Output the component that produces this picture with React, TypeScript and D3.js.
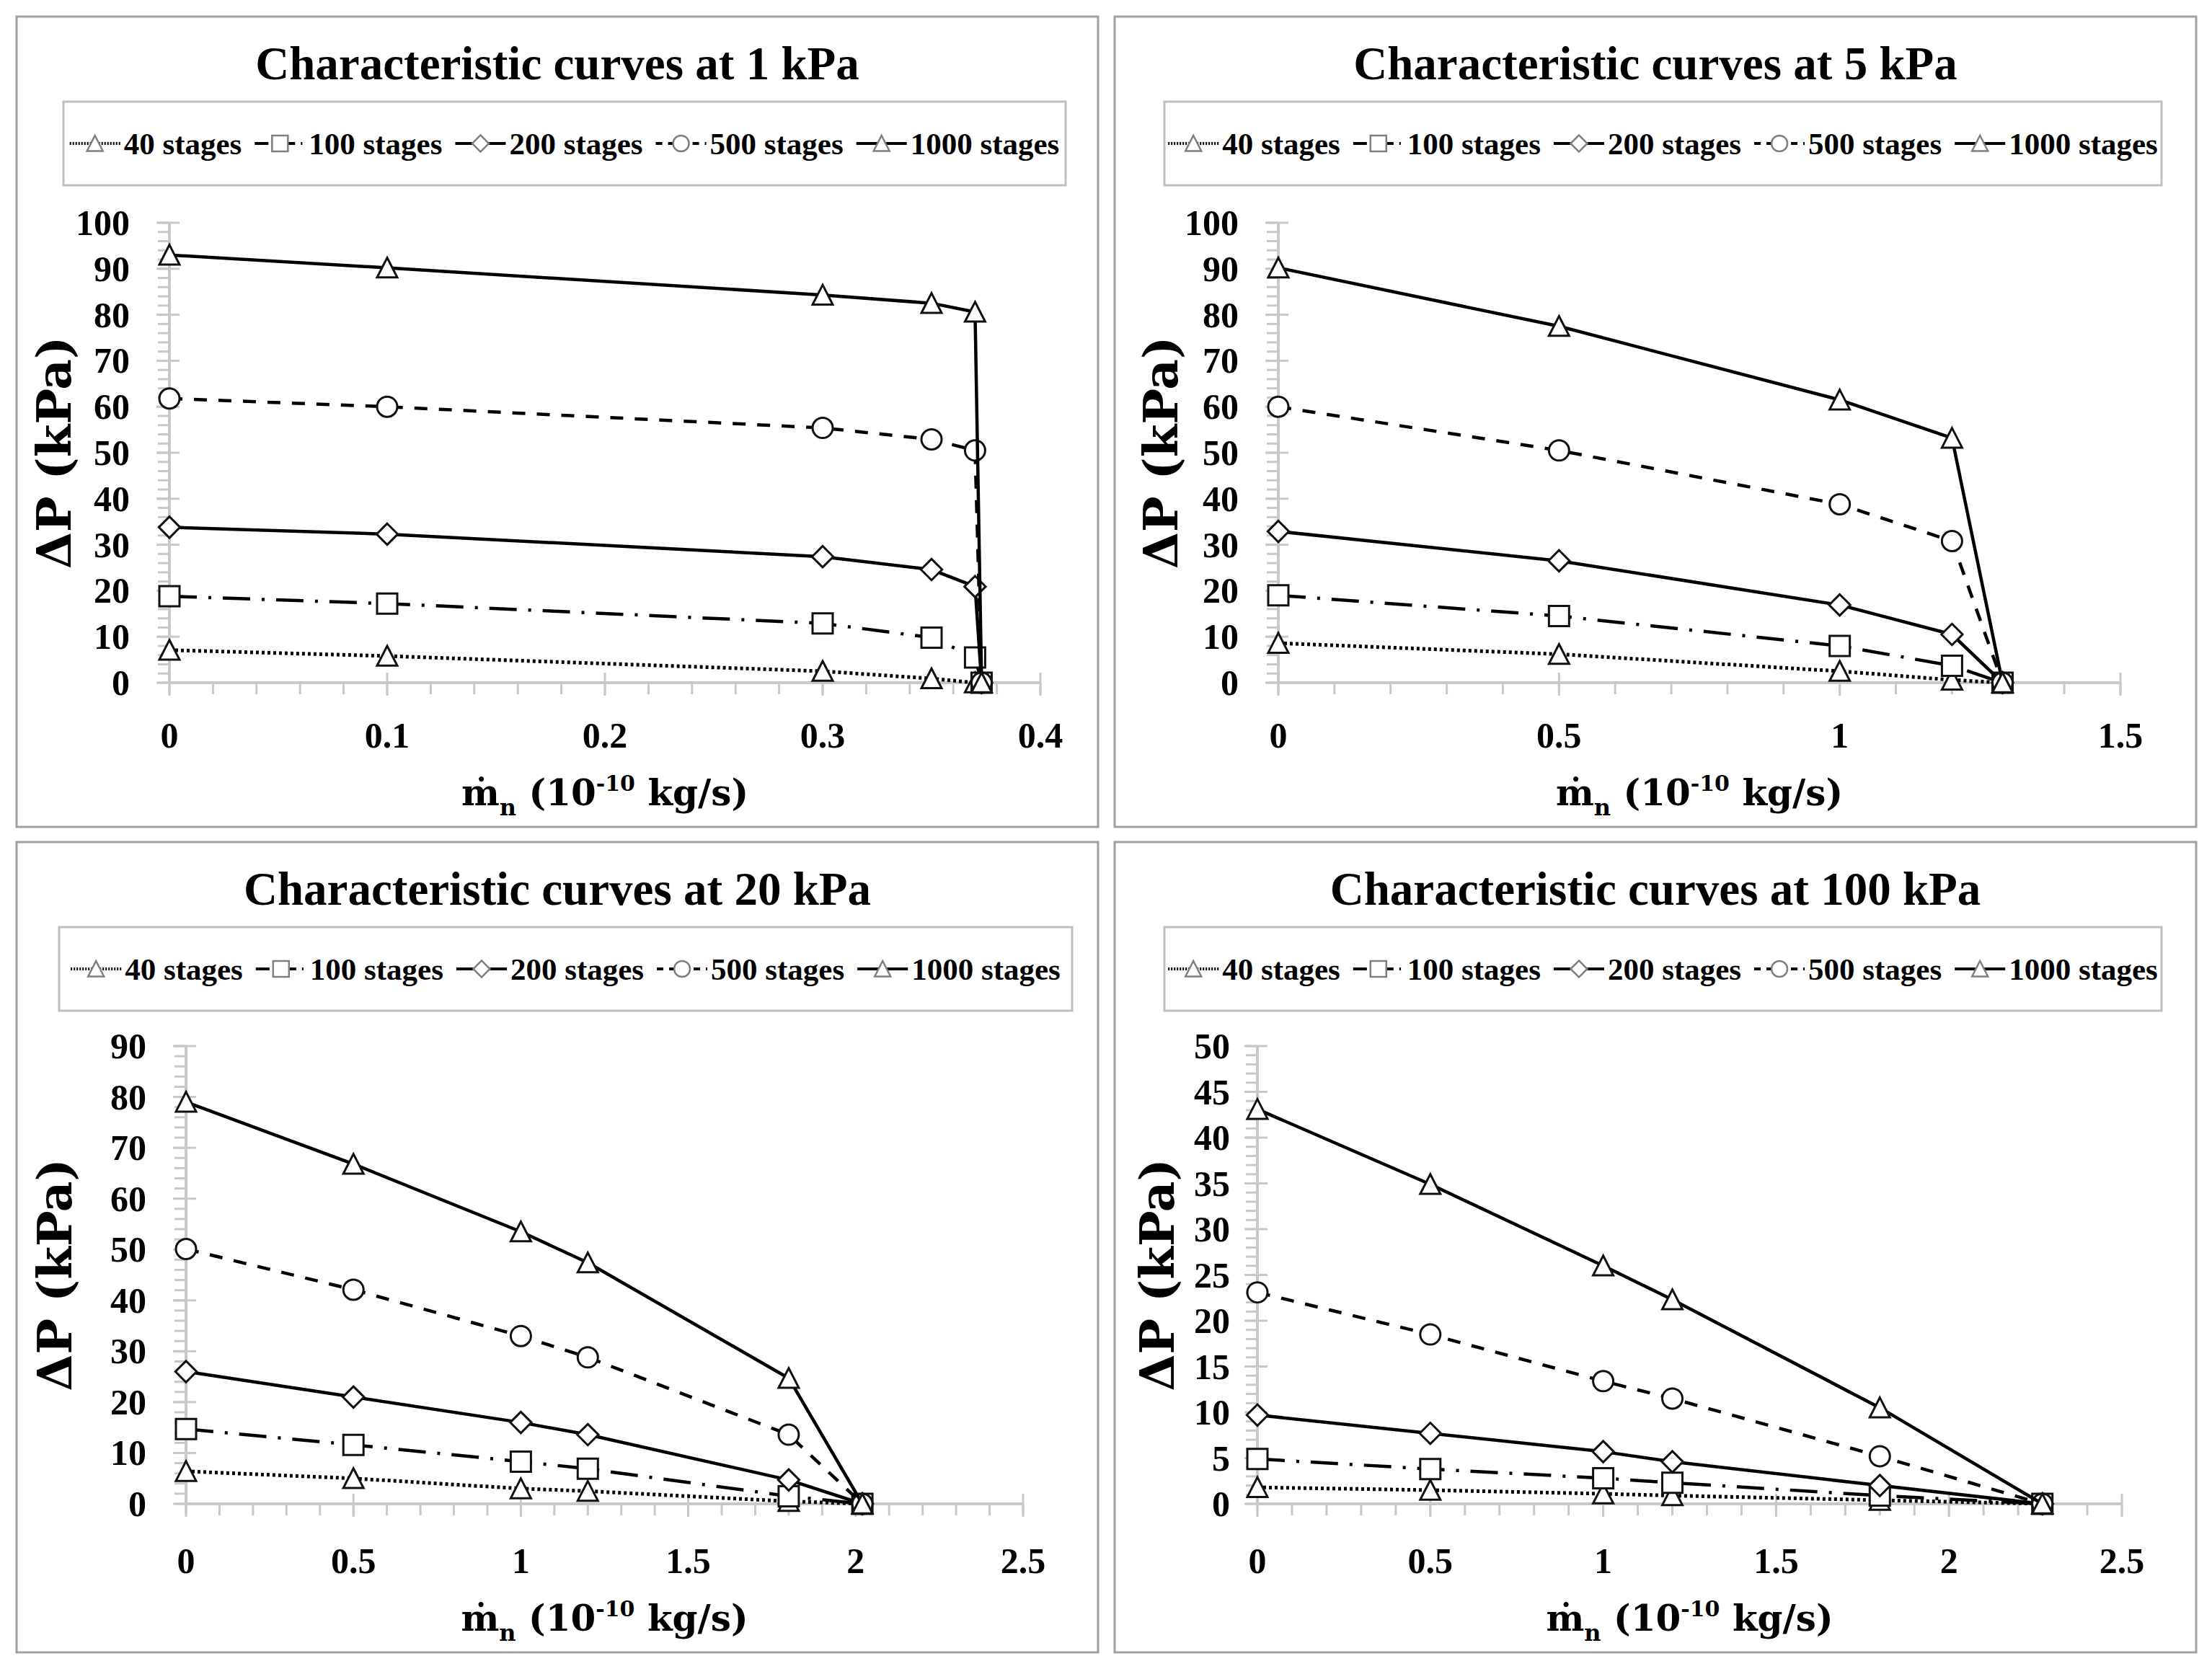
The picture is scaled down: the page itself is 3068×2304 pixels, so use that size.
import * as d3 from "d3";
import { useEffect, useRef } from "react";

const W = 3068;
const H = 2304;

const STAGES = ["40 stages", "100 stages", "200 stages", "500 stages", "1000 stages"];
const TITLES = [
  "Characteristic curves at 1 kPa",
  "Characteristic curves at 5 kPa",
  "Characteristic curves at 20 kPa",
  "Characteristic curves at 100 kPa",
];

// 1 kPa
const KPA1_X = [0, 0.1, 0.3, 0.35, 0.37, 0.373];
const KPA1_S40 = [7.1, 5.8, 2.5, 0.9, 0, 0];
const KPA1_S100 = [18.8, 17.2, 12.9, 9.8, 5.5, 0];
const KPA1_S200 = [33.8, 32.3, 27.4, 24.6, 20.9, 0];
const KPA1_S500 = [61.8, 60, 55.4, 52.9, 50.5, 0];
const KPA1_S1000 = [93, 90.2, 84.3, 82.5, 80.6, 0];

// 5 kPa
const KPA5_X = [0, 0.5, 1, 1.2, 1.29];
const KPA5_S40 = [8.6, 6.2, 2.5, 0.6, 0];
const KPA5_S100 = [19, 14.5, 8, 3.7, 0];
const KPA5_S200 = [32.9, 26.5, 16.9, 10.5, 0];
const KPA5_S500 = [60, 50.5, 38.8, 30.8, 0];
const KPA5_S1000 = [90.2, 77.5, 61.5, 53.2, 0];

// 20 kPa
const KPA20_X = [0, 0.5, 1, 1.2, 1.8, 2.02];
const KPA20_S40 = [6.4, 5, 3, 2.5, 0.5, 0];
const KPA20_S100 = [14.7, 11.6, 8.3, 6.9, 1.5, 0];
const KPA20_S200 = [26, 21, 16, 13.6, 4.7, 0];
const KPA20_S500 = [50.1, 42.1, 33, 28.8, 13.6, 0];
const KPA20_S1000 = [79, 66.8, 53.5, 47.4, 24.7, 0];

// 100 kPa
const KPA100_X = [0, 0.5, 1, 1.2, 1.8, 2.27];
const KPA100_S40 = [1.8, 1.5, 1.1, 0.9, 0.4, 0];
const KPA100_S100 = [4.9, 3.8, 2.8, 2.3, 0.9, 0];
const KPA100_S200 = [9.7, 7.7, 5.7, 4.6, 2, 0];
const KPA100_S500 = [23.1, 18.5, 13.4, 11.5, 5.2, 0];
const KPA100_S1000 = [43.1, 34.9, 26, 22.3, 10.5, 0];

const PANEL_X = [KPA1_X, KPA5_X, KPA20_X, KPA100_X];
const PANEL_SERIES = [
  [KPA1_S40, KPA1_S100, KPA1_S200, KPA1_S500, KPA1_S1000],
  [KPA5_S40, KPA5_S100, KPA5_S200, KPA5_S500, KPA5_S1000],
  [KPA20_S40, KPA20_S100, KPA20_S200, KPA20_S500, KPA20_S1000],
  [KPA100_S40, KPA100_S100, KPA100_S200, KPA100_S500, KPA100_S1000],
];

const X_MAX = [0.4, 1.5, 2.5, 2.5];
const X_MAJOR = [0.1, 0.5, 0.5, 0.5];
const X_MINOR = [0.02, 0.1, 0.1, 0.1];
const Y_MAX = [100, 100, 90, 50];
const Y_MAJOR = [10, 10, 10, 5];
const Y_MINOR = [2, 2, 2, 1];

// layout (px, relative to each panel frame)
const LAYOUT = [
  { ox: 23, oy: 23, l: 212, r: 1420, t: 286, b: 924, yt: 51, gap: 55, lgL: 65, lgR: 1455 },
  { ox: 1546, oy: 23, l: 227, r: 1395, t: 286, b: 924, yt: 63, gap: 55, lgL: 69, lgR: 1452 },
  { ox: 23, oy: 1168, l: 235, r: 1396, t: 283, b: 918, yt: 52, gap: 55, lgL: 59, lgR: 1464 },
  { ox: 1546, oy: 1168, l: 198, r: 1397, t: 283, b: 918, yt: 58, gap: 38, lgL: 69, lgR: 1452 },
];
const PW = 1500;
const PH = 1124;

const STYLES = [
  { dash: "4,4", marker: "triangle", width: 5 },
  { dash: "38,16,4,16", marker: "square", width: 4.5 },
  { dash: null, marker: "diamond", width: 4.5 },
  { dash: "18,16", marker: "circle", width: 4.5 },
  { dash: null, marker: "triangle", width: 4.5 },
];

const SERIF = "'Liberation Serif', 'Times New Roman', serif";
const SERIF_WIDE = "'DejaVu Serif', serif";
const AXIS = "#c8c8c8";

function markerPath(kind: string, s: number) {
  if (kind === "triangle") return `M0,${-s}L${s},${s * 0.95}L${-s},${s * 0.95}Z`;
  if (kind === "square") return `M${-s},${-s}H${s}V${s}H${-s}Z`;
  if (kind === "diamond") return `M0,${-s * 1.05}L${s * 1.05},0L0,${s * 1.05}L${-s * 1.05},0Z`;
  const p = d3.path();
  p.arc(0, 0, s, 0, Math.PI * 2);
  p.closePath();
  return p.toString();
}

function fmt(v: number) {
  return String(+v.toFixed(2));
}

export default function App() {
  const ref = useRef<SVGSVGElement>(null);

  useEffect(() => {
    document.body.style.margin = "0";
    if (!ref.current) return;
    const svg = d3.select(ref.current);
    svg.selectAll("*").remove();
    svg.append("rect").attr("width", W).attr("height", H).attr("fill", "#fff");

    LAYOUT.forEach((L, pi) => {
      const g = svg.append("g").attr("transform", `translate(${L.ox},${L.oy})`);

      g.append("rect")
        .attr("x", 0)
        .attr("y", 0)
        .attr("width", PW)
        .attr("height", PH)
        .attr("fill", "#fff")
        .attr("stroke", "#a0a0a0")
        .attr("stroke-width", 3);

      g.append("text")
        .attr("x", PW / 2)
        .attr("y", 87)
        .attr("text-anchor", "middle")
        .attr("font-family", SERIF)
        .attr("font-weight", "bold")
        .attr("font-size", 65)
        .text(TITLES[pi]);

      // legend
      g.append("rect")
        .attr("x", L.lgL)
        .attr("y", 118)
        .attr("width", L.lgR - L.lgL)
        .attr("height", 116)
        .attr("fill", "#fff")
        .attr("stroke", "#bfbfbf")
        .attr("stroke-width", 3);

      const lg = g.append("g");
      const sampleW = 70;
      const textGap = 18;
      let cx = 0;
      STAGES.forEach((name, si) => {
        const st = STYLES[si];
        const item = lg.append("g").attr("transform", `translate(${cx},0)`);
        item
          .append("line")
          .attr("x1", 0)
          .attr("x2", sampleW)
          .attr("y1", 0)
          .attr("y2", 0)
          .attr("stroke", "#000")
          .attr("stroke-width", 4)
          .attr("stroke-dasharray", st.dash ? st.dash.split(",").map((d) => +d * 0.5).join(",") : null);
        item
          .append("path")
          .attr("d", markerPath(st.marker, 11))
          .attr("transform", `translate(${sampleW / 2},0)`)
          .attr("fill", "#fff")
          .attr("stroke", "#7f7f7f")
          .attr("stroke-width", 2.5);
        const t = item
          .append("text")
          .attr("x", sampleW + 5)
          .attr("y", 15)
          .attr("font-family", SERIF)
          .attr("font-weight", "bold")
          .attr("font-size", 43)
          .text(name);
        const tw = (t.node() as SVGTextElement).getComputedTextLength();
        cx += sampleW + 5 + tw + textGap;
      });
      const contentW = cx - textGap;
      lg.attr("transform", `translate(${(L.lgL + L.lgR) / 2 - contentW / 2},176)`);

      // scales
      const x = d3.scaleLinear().domain([0, X_MAX[pi]]).range([L.l, L.r]);
      const y = d3.scaleLinear().domain([0, Y_MAX[pi]]).range([L.b, L.t]);

      const ax = g.append("g");
      const xMinor = d3.range(0, X_MAX[pi] + 1e-9, X_MINOR[pi]);
      const yMinor = d3.range(0, Y_MAX[pi] + 1e-9, Y_MINOR[pi]);
      const xMajor = d3.range(0, X_MAX[pi] + 1e-9, X_MAJOR[pi]);
      const yMajor = d3.range(0, Y_MAX[pi] + 1e-9, Y_MAJOR[pi]);

      ax.selectAll(".xmn")
        .data(xMinor)
        .join("line")
        .attr("x1", (d) => x(d))
        .attr("x2", (d) => x(d))
        .attr("y1", L.b)
        .attr("y2", L.b + 16)
        .attr("stroke", AXIS)
        .attr("stroke-width", 3);
      ax.selectAll(".xmj")
        .data(xMajor)
        .join("line")
        .attr("x1", (d) => x(d))
        .attr("x2", (d) => x(d))
        .attr("y1", L.b - 14)
        .attr("y2", L.b + 18)
        .attr("stroke", AXIS)
        .attr("stroke-width", 3);
      ax.selectAll(".ymn")
        .data(yMinor)
        .join("line")
        .attr("x1", L.l - 16)
        .attr("x2", L.l)
        .attr("y1", (d) => y(d))
        .attr("y2", (d) => y(d))
        .attr("stroke", AXIS)
        .attr("stroke-width", 3);
      ax.selectAll(".ymj")
        .data(yMajor)
        .join("line")
        .attr("x1", L.l - 18)
        .attr("x2", L.l + 14)
        .attr("y1", (d) => y(d))
        .attr("y2", (d) => y(d))
        .attr("stroke", AXIS)
        .attr("stroke-width", 3);
      ax.append("line")
        .attr("x1", L.l)
        .attr("x2", L.r)
        .attr("y1", L.b)
        .attr("y2", L.b)
        .attr("stroke", AXIS)
        .attr("stroke-width", 4);
      ax.append("line")
        .attr("x1", L.l)
        .attr("x2", L.l)
        .attr("y1", L.t)
        .attr("y2", L.b)
        .attr("stroke", AXIS)
        .attr("stroke-width", 4);

      ax.selectAll(".xl")
        .data(xMajor)
        .join("text")
        .attr("x", (d) => x(d))
        .attr("y", 1014)
        .attr("text-anchor", "middle")
        .attr("font-family", SERIF)
        .attr("font-weight", "bold")
        .attr("font-size", 50)
        .text((d) => fmt(d));
      ax.selectAll(".yl")
        .data(yMajor)
        .join("text")
        .attr("x", L.l - L.gap)
        .attr("y", (d) => y(d) + 17)
        .attr("text-anchor", "end")
        .attr("font-family", SERIF)
        .attr("font-weight", "bold")
        .attr("font-size", 50)
        .text((d) => fmt(d));

      // axis titles
      g.append("text")
        .attr("transform", `translate(${L.yt + 24},${(L.t + L.b) / 2}) rotate(-90)`)
        .attr("text-anchor", "middle")
        .attr("font-family", SERIF_WIDE)
        .attr("font-weight", "bold")
        .attr("font-size", 66)
        .text("ΔP (kPa)");

      const xt = g
        .append("text")
        .attr("x", (L.l + L.r) / 2)
        .attr("y", 1094)
        .attr("text-anchor", "middle")
        .attr("font-family", SERIF_WIDE)
        .attr("font-weight", "bold")
        .attr("font-size", 50);
      xt.append("tspan").text("ṁ");
      xt.append("tspan").attr("font-size", 32).attr("dy", 14).text("n");
      xt.append("tspan").attr("dy", -14).text(" (10");
      xt.append("tspan").attr("font-size", 30).attr("dy", -20).text("-10");
      xt.append("tspan").attr("dy", 20).text(" kg/s)");

      // series
      const xs = PANEL_X[pi];
      PANEL_SERIES[pi].forEach((vals, si) => {
        const st = STYLES[si];
        const pts = vals.map((v, i) => [xs[i], v] as [number, number]);
        const line = d3
          .line<[number, number]>()
          .x((d) => x(d[0]))
          .y((d) => y(d[1]));
        g.append("path")
          .datum(pts)
          .attr("d", line)
          .attr("fill", "none")
          .attr("stroke", "#000")
          .attr("stroke-width", st.width)
          .attr("stroke-linejoin", "round")
          .attr("stroke-dasharray", st.dash);
        g.append("g")
          .selectAll("path")
          .data(pts)
          .join("path")
          .attr("d", markerPath(st.marker, 14))
          .attr("transform", (d) => `translate(${x(d[0])},${y(d[1])})`)
          .attr("fill", "#fff")
          .attr("stroke", "#111")
          .attr("stroke-width", 3);
      });
    });
  }, []);

  return <svg ref={ref} width={W} height={H} style={{ display: "block" }} />;
}
